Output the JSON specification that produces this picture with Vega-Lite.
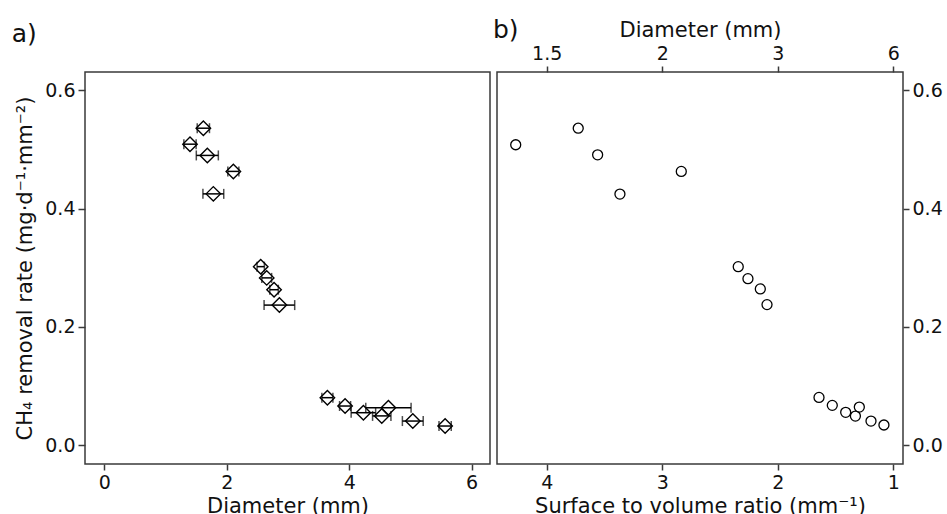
{
  "$schema": "https://vega.github.io/schema/vega-lite/v6.json",
  "padding": {"left": 11, "top": 17, "right": 0, "bottom": 0},
  "spacing": 1,
  "config": {
    "font": "DejaVu Sans",
    "view": {"stroke": "#3a3a3a", "strokeWidth": 1.5},
    "axis": {"grid": false, "domain": false, "tickColor": "#3a3a3a", "tickWidth": 1.5, "tickSize": 6, "labelFontSize": 19, "labelColor": "#111", "titleFontSize": 21, "titleFontWeight": "normal", "titleColor": "#111", "labelPadding": 3, "titlePadding": 4},
    "axisBottom": {"labelPadding": 3, "titlePadding": 3},
    "title": {"fontSize": 25, "fontWeight": "normal", "anchor": "start", "color": "#111"}
  },
  "hconcat": [
    {
      "width": 405,
      "height": 392,
      "title": {"text": "a)", "frame": "bounds", "offset": 25, "dx": -3},
      "data": {"values": [
        {"d": 1.40, "lo": 1.30, "hi": 1.50, "rate": 0.509},
        {"d": 1.618, "lo": 1.518, "hi": 1.718, "rate": 0.536},
        {"d": 1.683, "lo": 1.503, "hi": 1.863, "rate": 0.490},
        {"d": 2.108, "lo": 2.018, "hi": 2.198, "rate": 0.463},
        {"d": 1.781, "lo": 1.611, "hi": 1.951, "rate": 0.425},
        {"d": 2.555, "lo": 2.495, "hi": 2.615, "rate": 0.302},
        {"d": 2.653, "lo": 2.573, "hi": 2.733, "rate": 0.283},
        {"d": 2.773, "lo": 2.703, "hi": 2.843, "rate": 0.263},
        {"d": 2.86, "lo": 2.61, "hi": 3.11, "rate": 0.237},
        {"d": 3.644, "lo": 3.554, "hi": 3.734, "rate": 0.0805},
        {"d": 3.933, "lo": 3.843, "hi": 4.023, "rate": 0.0664},
        {"d": 4.232, "lo": 4.032, "hi": 4.432, "rate": 0.0551},
        {"d": 4.532, "lo": 4.382, "hi": 4.682, "rate": 0.0497},
        {"d": 4.641, "lo": 4.271, "hi": 5.011, "rate": 0.0636},
        {"d": 5.039, "lo": 4.869, "hi": 5.209, "rate": 0.041},
        {"d": 5.567, "lo": 5.467, "hi": 5.667, "rate": 0.0326}
      ]},
      "encoding": {
        "y": {"field": "rate", "type": "quantitative",
              "scale": {"domain": [-0.0316, 0.631], "nice": false, "zero": false},
              "axis": {"values": [0, 0.2, 0.4, 0.6], "format": ".1f", "tickSize": 7, "titlePadding": 9, "title": "CH₄ removal rate (mg·d⁻¹·mm⁻²)"}}
      },
      "layer": [
        {
          "mark": {"type": "errorbar", "color": "black", "ticks": {"size": 10, "thickness": 1.5}, "rule": {"strokeWidth": 1.5}},
          "encoding": {
            "x": {"field": "lo", "type": "quantitative",
                  "scale": {"domain": [-0.315, 6.30], "nice": false, "zero": false},
                  "axis": {"values": [0, 2, 4, 6], "format": "d", "title": "Diameter (mm)"}},
            "x2": {"field": "hi"}
          }
        },
        {
          "mark": {"type": "point", "shape": "diamond", "size": 210, "filled": false, "stroke": "black", "strokeWidth": 1.4, "opacity": 1},
          "encoding": {
            "x": {"field": "d", "type": "quantitative",
                  "scale": {"domain": [-0.315, 6.30], "nice": false, "zero": false},
                  "axis": {"values": [0, 2, 4, 6], "format": "d", "title": "Diameter (mm)"}}
          }
        }
      ]
    },
    {
      "width": 406,
      "height": 392,
      "title": {"text": "b)", "frame": "group", "offset": -24, "dx": -4},
      "data": {"values": [
        {"sv": 4.268, "rate": 0.508},
        {"sv": 3.727, "rate": 0.536},
        {"sv": 3.559, "rate": 0.491},
        {"sv": 3.366, "rate": 0.4246},
        {"sv": 2.835, "rate": 0.463},
        {"sv": 2.342, "rate": 0.302},
        {"sv": 2.258, "rate": 0.2817},
        {"sv": 2.151, "rate": 0.2643},
        {"sv": 2.093, "rate": 0.2378},
        {"sv": 1.643, "rate": 0.081},
        {"sv": 1.528, "rate": 0.0675},
        {"sv": 1.412, "rate": 0.0557},
        {"sv": 1.328, "rate": 0.0494},
        {"sv": 1.294, "rate": 0.0646},
        {"sv": 1.193, "rate": 0.041},
        {"sv": 1.081, "rate": 0.0343}
      ]},
      "encoding": {
        "y": {"field": "rate", "type": "quantitative",
              "scale": {"domain": [-0.0316, 0.631], "nice": false, "zero": false},
              "axis": {"orient": "right", "values": [0, 0.2, 0.4, 0.6], "format": ".1f", "title": null}}
      },
      "layer": [
        {
          "mark": {"type": "point", "shape": "circle", "size": 100, "filled": false, "stroke": "black", "strokeWidth": 1.3, "opacity": 1},
          "encoding": {
            "x": {"field": "sv", "type": "quantitative",
                  "scale": {"domain": [0.916, 4.43], "reverse": true, "nice": false, "zero": false},
                  "axis": {"orient": "bottom", "values": [1, 2, 3, 4], "format": "d", "title": "Surface to volume ratio (mm⁻¹)"}}
          }
        },
        {
          "mark": {"type": "point", "shape": "circle", "size": 100, "filled": false, "stroke": "black", "opacity": 0},
          "encoding": {
            "x": {"field": "sv", "type": "quantitative",
                  "scale": {"domain": [0.916, 4.43], "reverse": true, "nice": false, "zero": false},
                  "axis": {"orient": "top", "values": [1, 2, 3, 4], "labelExpr": "'' + (6 / datum.value)", "title": "Diameter (mm)"}}
          }
        }
      ],
      "resolve": {"axis": {"x": "independent"}}
    }
  ]
}
